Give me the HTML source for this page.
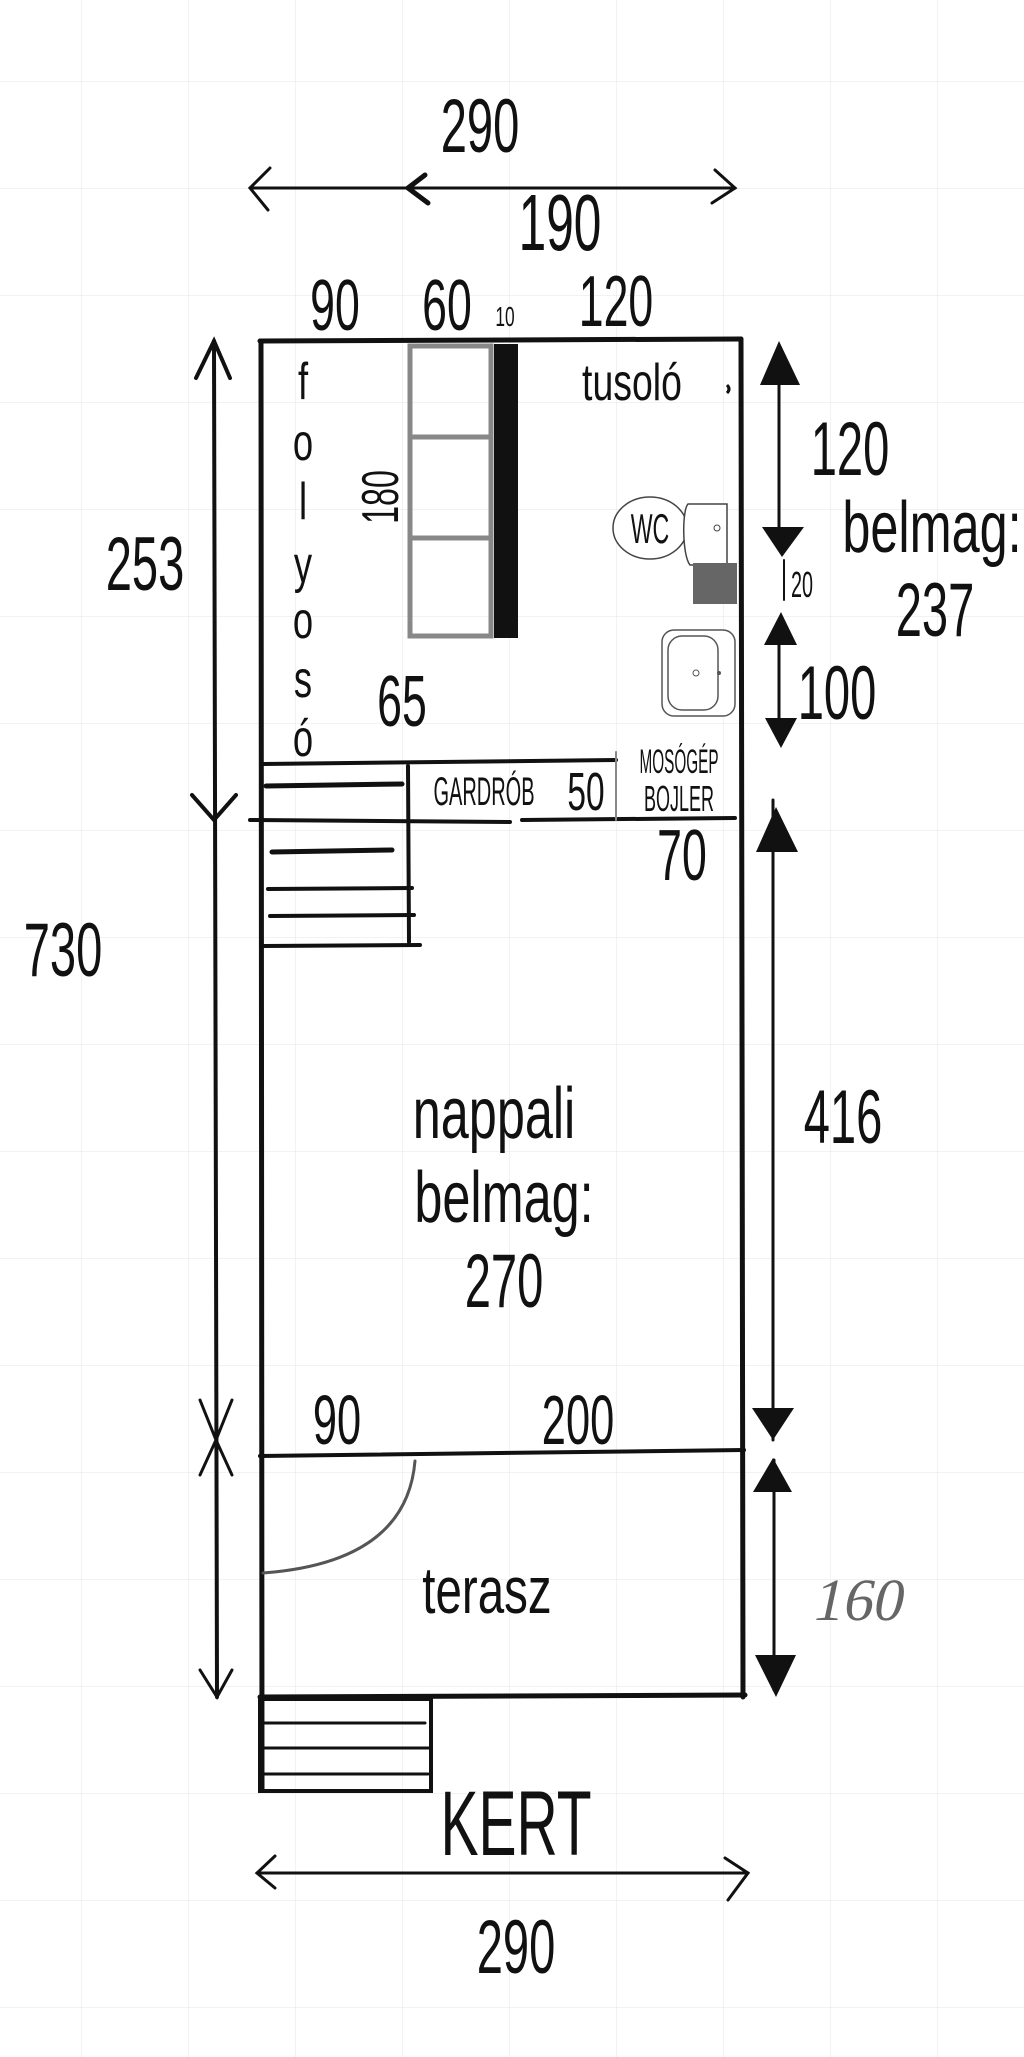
<!DOCTYPE html>
<html><head><meta charset="utf-8"><style>
html,body{margin:0;padding:0;background:#fff;}
svg{display:block;}
text{font-family:"Liberation Sans Narrow","Liberation Sans",sans-serif;fill:#111;}
</style></head><body>
<svg width="1024" height="2057" viewBox="0 0 1024 2057" xmlns="http://www.w3.org/2000/svg">
<defs>
<pattern id="g" width="107" height="107" patternUnits="userSpaceOnUse" x="-25" y="-25">
<path d="M107 0V107M0 107H107" stroke="#e6e6e6" stroke-width="1" fill="none"/>
</pattern>
</defs>
<rect width="1024" height="2057" fill="url(#g)"/>
<g stroke="#111" fill="none" stroke-linecap="round">
<!-- top dimension arrow -->
<line x1="250" y1="188" x2="735" y2="188" stroke-width="3"/>
<path d="M270 168 L250 188 L268 210" stroke-width="3"/>
<path d="M715 170 L735 188 L712 203" stroke-width="3"/>
<path d="M425 175 L408 188 L428 203" stroke-width="5"/>
<!-- main outline -->
<line x1="260" y1="341" x2="741" y2="339" stroke-width="5"/>
<line x1="261" y1="341" x2="262" y2="1790" stroke-width="5"/>
<line x1="741" y1="339" x2="743" y2="1697" stroke-width="5"/>
<line x1="260" y1="1697" x2="745" y2="1695" stroke-width="5"/>
<line x1="260" y1="1456" x2="744" y2="1450" stroke-width="4"/>
<!-- left vertical arrow -->
<line x1="214" y1="341" x2="217" y2="1697" stroke-width="4"/>
<path d="M196 378 L214 341 L230 378" stroke-width="4"/>
<path d="M192 795 L214 820 L236 795" stroke-width="4"/>
<path d="M200 1400 L216 1440 L232 1400 M200 1475 L216 1440 L232 1475" stroke-width="3"/>
<path d="M200 1670 L217 1697 L232 1670" stroke-width="3"/>
<!-- gardrob lines -->
<line x1="263" y1="764" x2="616" y2="760" stroke-width="4"/>
<line x1="250" y1="820" x2="510" y2="822" stroke-width="4"/>
<line x1="522" y1="820" x2="735" y2="818" stroke-width="4"/>
<line x1="408" y1="766" x2="409" y2="942" stroke-width="4"/>
<line x1="616" y1="752" x2="616" y2="820" stroke-width="2" stroke="#888"/>
<line x1="266" y1="786" x2="402" y2="784" stroke-width="5"/>
<line x1="272" y1="852" x2="392" y2="850" stroke-width="5"/>
<line x1="268" y1="889" x2="412" y2="888" stroke-width="4"/>
<line x1="270" y1="916" x2="414" y2="915" stroke-width="4"/>
<line x1="263" y1="946" x2="420" y2="945" stroke-width="4"/>
<!-- door arc -->
<path d="M415 1461 C410 1520 370 1565 263 1573" stroke-width="3" stroke="#555"/>
<!-- bottom stairs -->
<path d="M260 1699 H431 V1791 H260 Z" stroke-width="4"/>
<line x1="262" y1="1723" x2="425" y2="1723" stroke-width="3"/>
<line x1="262" y1="1748" x2="431" y2="1748" stroke-width="3"/>
<line x1="262" y1="1774" x2="428" y2="1774" stroke-width="3"/>
<!-- bottom arrow -->
<line x1="257" y1="1873" x2="748" y2="1873" stroke-width="3"/>
<path d="M275 1856 L257 1873 L275 1888" stroke-width="3"/>
<path d="M725 1858 L748 1873 L728 1900" stroke-width="3"/>
<!-- right arrows -->
<line x1="779" y1="350" x2="779" y2="540" stroke-width="3"/>
<line x1="779" y1="620" x2="779" y2="740" stroke-width="3"/>
<line x1="773" y1="800" x2="773" y2="1440" stroke-width="3"/>
<line x1="774" y1="1460" x2="774" y2="1690" stroke-width="3"/>
<line x1="784" y1="560" x2="784" y2="600" stroke-width="2"/>
</g>
<g fill="#111">
<polygon points="779,341 760,385 800,385"/>
<polygon points="762,527 804,527 782,557"/>
<polygon points="781,612 764,645 797,645"/>
<polygon points="765,718 797,718 781,748"/>
<polygon points="776,807 756,852 798,852"/>
<polygon points="752,1408 794,1408 773,1440"/>
<polygon points="773,1458 753,1492 792,1492"/>
<polygon points="755,1655 796,1655 776,1697"/>
</g>
<!-- shelf -->
<rect x="410" y="346" width="81" height="290" fill="none" stroke="#888" stroke-width="5"/>
<line x1="410" y1="437" x2="491" y2="437" stroke="#888" stroke-width="5"/>
<line x1="410" y1="538" x2="491" y2="538" stroke="#888" stroke-width="5"/>
<rect x="494" y="344" width="24" height="294" fill="#111"/>
<!-- WC -->
<ellipse cx="650" cy="528" rx="37" ry="31" fill="#fff" stroke="#444" stroke-width="1.5"/>
<path d="M688 504 H727 V565 H690 C682 555 682 510 688 504 Z" fill="#fff" stroke="#444" stroke-width="1.5"/>
<circle cx="717" cy="528" r="3" fill="none" stroke="#444"/>
<rect x="693" y="563" width="44" height="41" fill="#666"/>
<!-- sink -->
<rect x="662" y="630" width="73" height="86" rx="12" fill="#fff" stroke="#555" stroke-width="1.5"/>
<rect x="668" y="636" width="50" height="74" rx="14" fill="none" stroke="#555" stroke-width="1.5"/>
<circle cx="696" cy="673" r="3" fill="none" stroke="#555"/>
<circle cx="719" cy="673" r="2" fill="#555"/>
<path d="M727 393 q4 -4 0 -8" stroke="#111" stroke-width="3" fill="none"/>
<!-- texts -->
<g text-anchor="middle">
<text transform="translate(480,152) scale(0.62,1)" font-size="76">290</text>
<text transform="translate(560,250) scale(0.62,1)" font-size="80">190</text>
<text transform="translate(335,330) scale(0.62,1)" font-size="72">90</text>
<text transform="translate(447,330) scale(0.62,1)" font-size="72">60</text>
<text transform="translate(505,326) scale(0.62,1)" font-size="28">10</text>
<text transform="translate(616,326) scale(0.62,1)" font-size="72">120</text>
<text transform="translate(632,400) scale(0.72,1)" font-size="52">tusoló</text>
<text transform="translate(145,590) scale(0.62,1)" font-size="76">253</text>
<text transform="translate(63,976) scale(0.62,1)" font-size="76">730</text>
<text transform="translate(398,497) rotate(-90) scale(0.62,1)" font-size="52">180</text>
<text transform="translate(402,726) scale(0.62,1)" font-size="72">65</text>
<text transform="translate(650,543) scale(0.55,1)" font-size="42">WC</text>
<text transform="translate(850,475) scale(0.62,1)" font-size="76">120</text>
<text transform="translate(932,552) scale(0.7,1)" font-size="72">belmag:</text>
<text transform="translate(935,636) scale(0.62,1)" font-size="76">237</text>
<text transform="translate(802,597) scale(0.55,1)" font-size="36">20</text>
<text transform="translate(837,719) scale(0.62,1)" font-size="76">100</text>
<text transform="translate(484,805) scale(0.5,1)" font-size="40">GARDRÓB</text>
<text transform="translate(586,810) scale(0.62,1)" font-size="54">50</text>
<text transform="translate(679,773) scale(0.45,1)" font-size="34">MOSÓGÉP</text>
<text transform="translate(679,811) scale(0.5,1)" font-size="36">BOJLER</text>
<text transform="translate(682,880) scale(0.62,1)" font-size="72">70</text>
<text transform="translate(494,1138) scale(0.7,1)" font-size="72">nappali</text>
<text transform="translate(504,1222) scale(0.7,1)" font-size="72">belmag:</text>
<text transform="translate(504,1307) scale(0.62,1)" font-size="76">270</text>
<text transform="translate(843,1143) scale(0.62,1)" font-size="76">416</text>
<text transform="translate(337,1444) scale(0.62,1)" font-size="70">90</text>
<text transform="translate(578,1444) scale(0.62,1)" font-size="70">200</text>
<text transform="translate(487,1613) scale(0.72,1)" font-size="66">terasz</text>
<text transform="translate(516,1855) scale(0.62,1)" font-size="92">KERT</text>
<text transform="translate(516,1973) scale(0.62,1)" font-size="76">290</text>
</g>
<g text-anchor="middle" font-size="52">
<text transform="translate(303,399) scale(0.7,1)">f</text>
<text transform="translate(303,460) scale(0.7,1)">o</text>
<text transform="translate(303,519) scale(0.7,1)">l</text>
<text transform="translate(303,582) scale(0.7,1)">y</text>
<text transform="translate(303,638) scale(0.7,1)">o</text>
<text transform="translate(303,697) scale(0.7,1)">s</text>
<text transform="translate(303,756) scale(0.7,1)">ó</text>
</g>
<text transform="translate(856,1620) skewX(-12)" font-size="60" text-anchor="middle" style="font-family:'Liberation Serif',serif;fill:#666;font-weight:300">160</text>
</svg>
</body></html>
